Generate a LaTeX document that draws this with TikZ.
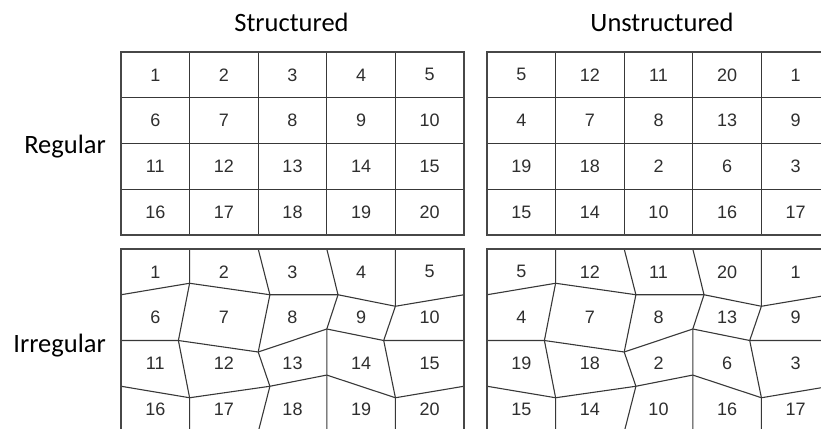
\documentclass[tikz,border=0pt]{standalone}
\usepackage{fontspec}
\newfontfamily\labfont{Carlito}
\newfontfamily\numfont{Liberation Sans}
\tikzset{
  meshline/.style={draw=black!78, line width=1.1pt, line join=round},
  outerline/.style={draw=black!72, line width=1.5pt},
  cellnum/.style={font=\numfont\fontsize{18}{18}\selectfont, text=black!82, inner sep=0pt},
  heading/.style={font=\labfont\fontsize{26.5}{26.5}\selectfont, inner sep=0pt, text=black}
}
\begin{document}
\begin{tikzpicture}[x=1pt,y=-1pt]
\useasboundingbox (0,0) rectangle (821,428);
\clip (0,0) rectangle (821,428);
\def\cw{68.6}
\def\rh{45.75}
% headings
\node[heading, anchor=base] (hs) at (291.5,32) {Structured};
\node[heading, anchor=base] (hu) at (662,32) {Unstructured};
\node[heading, anchor=base east] (hr) at (106,153) {Regular};
\node[heading, anchor=base east] (hi) at (106,352.5) {Irregular};
% regular grids
\foreach \ox/\pre in {121/RA, 487/RB}{
  \foreach \i in {1,...,4}
    \draw[meshline] ({\ox+\i*\cw},52) -- ({\ox+\i*\cw},{52+4*\rh});
  \foreach \j in {1,...,3}
    \draw[meshline] (\ox,{52+\j*\rh}) -- ({\ox+5*\cw},{52+\j*\rh});
  \draw[outerline] (\ox,52) rectangle ({\ox+5*\cw},{52+4*\rh});
}
% irregular grids: vertices
\foreach \ox/\pre in {121/IA, 487/IB}{
  \foreach \i in {0,...,5}
    \foreach \j in {0,...,4}
      \coordinate (\pre-\i-\j) at ({\ox+\i*\cw},{249+\j*\rh});
  \foreach \i/\j/\dx/\dy in {1/1/0/-11.5, 2/1/11.7/0, 3/1/11.2/0, 4/1/0/11.5,
                             1/2/-11.2/0, 2/2/0/11.5, 3/2/0/-11.5, 4/2/-11.7/0,
                             1/3/0/11.5, 2/3/11.7/0, 3/3/0/-11.2, 4/3/0/11.5}
    \coordinate (\pre-\i-\j) at ({\ox+\i*\cw+\dx},{249+\j*\rh+\dy});
  \foreach \j in {1,...,3}
    \draw[meshline] (\pre-0-\j) -- (\pre-1-\j) -- (\pre-2-\j) -- (\pre-3-\j) -- (\pre-4-\j) -- (\pre-5-\j);
  \foreach \i in {1,...,4}
    \draw[meshline] (\pre-\i-0) -- (\pre-\i-1) -- (\pre-\i-2) -- (\pre-\i-3) -- (\pre-\i-4);
  \draw[outerline] (\pre-0-4) -- (\pre-0-0) -- (\pre-5-0) -- (\pre-5-4);
}
% numbers
\foreach \ox/\oy/\pre/\lst in {
   121/52/na/{1,2,3,4,5,6,7,8,9,10,11,12,13,14,15,16,17,18,19,20},
   487/52/nb/{5,12,11,20,1,4,7,8,13,9,19,18,2,6,3,15,14,10,16,17},
   121/249/nc/{1,2,3,4,5,6,7,8,9,10,11,12,13,14,15,16,17,18,19,20},
   487/249/nd/{5,12,11,20,1,4,7,8,13,9,19,18,2,6,3,15,14,10,16,17}}{
  \foreach \n [count=\k from 0] in \lst {
    \pgfmathtruncatemacro{\col}{mod(\k,5)}
    \pgfmathtruncatemacro{\row}{int(\k/5)}
    \node[cellnum] (\pre-\k) at ({\ox+(\col+0.5)*\cw},{\oy+(\row+0.5)*\rh}) {\n};
  }
}
\end{tikzpicture}
\end{document}
